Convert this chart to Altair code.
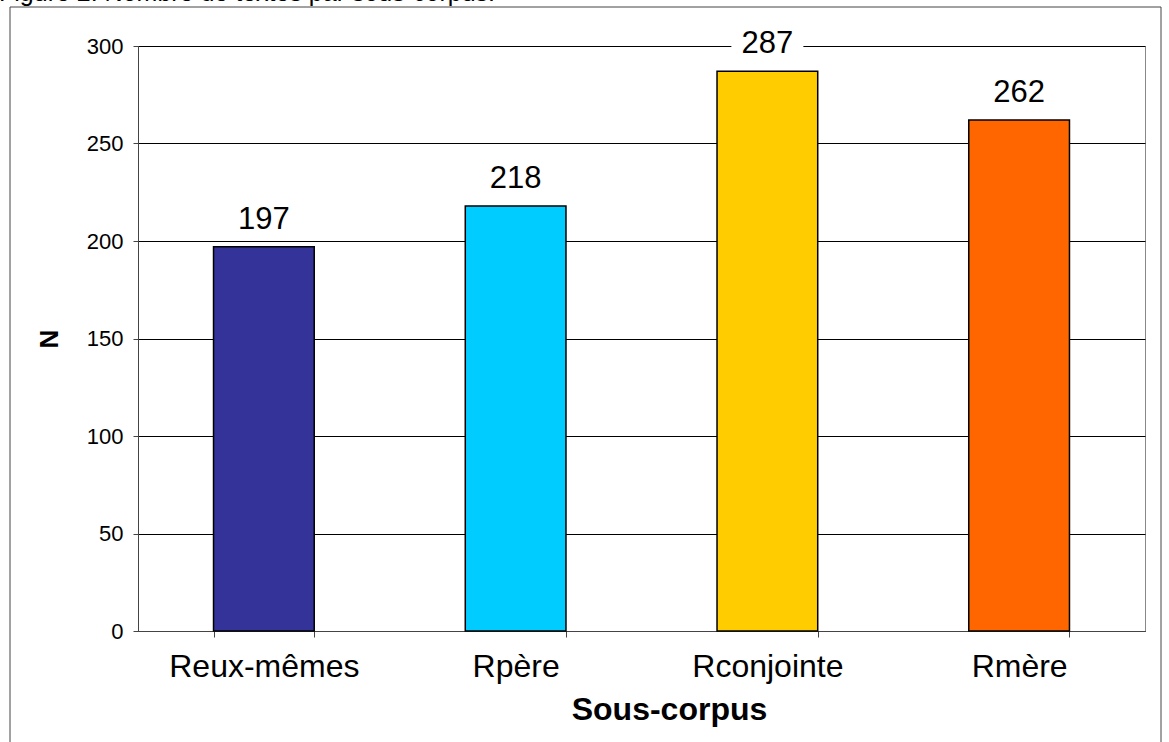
import altair as alt
import pandas as pd

categories = ["Reux-mêmes", "Rpère", "Rconjointe", "Rmère"]
counts = [197, 218, 287, 262]
colors = ["#333399", "#00CCFF", "#FFCC00", "#FF6600"]
y_ticks = [0, 50, 100, 150, 200, 250, 300]
title_text = ["Figure 2. Nombre de textes par sous-corpus."]

df = pd.DataFrame({"cat": categories, "n": counts})
one = pd.DataFrame({"t": title_text})

FONT = "Liberation Sans"
W, H = 1007, 585
PL, PT, PR, PB = 138, 46, 24, 111

x = alt.X(
    "cat:N", sort=categories,
    scale=alt.Scale(paddingInner=0.6, paddingOuter=0.3),
    axis=alt.Axis(title="Sous-corpus", labelAngle=0, labelFontSize=32, labelFont=FONT,
                  labelColor="black", labelPadding=14, labelLimit=0, tickBand="extent",
                  tickSize=6, tickColor="#444", domainColor="#444", titleFontSize=32,
                  titleFont=FONT, titleFontWeight="bold", titleColor="black",
                  titlePadding=12, titleX=531, grid=False),
)
y = alt.Y(
    "n:Q",
    scale=alt.Scale(domain=[0, 300], nice=False),
    axis=alt.Axis(title="N", values=y_ticks, labelFontSize=22, labelFont=FONT,
                  labelColor="black", labelPadding=10, tickSize=5, tickColor="#444",
                  domainColor="#444", grid=True, gridColor="black", gridWidth=1,
                  titleFontSize=26, titleFont=FONT, titleFontWeight="bold",
                  titleColor="black", titlePadding=24),
)

bars = alt.Chart(df).mark_bar(stroke="black", strokeWidth=1.5).encode(
    x=x, y=y,
    color=alt.Color("cat:N", scale=alt.Scale(domain=categories, range=colors), legend=None),
)

bg = alt.Chart(df).mark_point(
    shape="M-1,-0.45L1,-0.45L1,0.45L-1,0.45Z", size=5184, filled=True,
    fill="white", opacity=1, strokeWidth=0, yOffset=-30,
).encode(x=alt.X("cat:N", sort=categories), y="n:Q")

labels = alt.Chart(df).mark_text(
    fontSize=31, font=FONT, baseline="alphabetic", dy=-18, color="black"
).encode(x=alt.X("cat:N", sort=categories), y="n:Q", text="n:Q")

title = alt.Chart(one).mark_text(
    fontSize=25, font=FONT, align="left", baseline="alphabetic", color="black"
).encode(x=alt.value(-PL - 1), y=alt.value(-PT + 1), text="t:N")

frame = alt.Chart(one).mark_rect(fillOpacity=0, stroke="#444", strokeWidth=1).encode(
    x=alt.value(10 - PL), x2=alt.value(1161 - PL), y=alt.value(7 - PT), y2=alt.value(H + PB + 50)
)

chart = alt.layer(frame, title, bars, bg, labels).properties(
    width=W, height=H,
    padding={"left": PL, "top": PT, "right": PR, "bottom": PB},
    autosize=alt.AutoSizeParams(type="none"),
    background="white",
).configure_view(stroke="#888", strokeWidth=1)

chart.save("out.html", embed_options={"renderer": "svg", "actions": False})
